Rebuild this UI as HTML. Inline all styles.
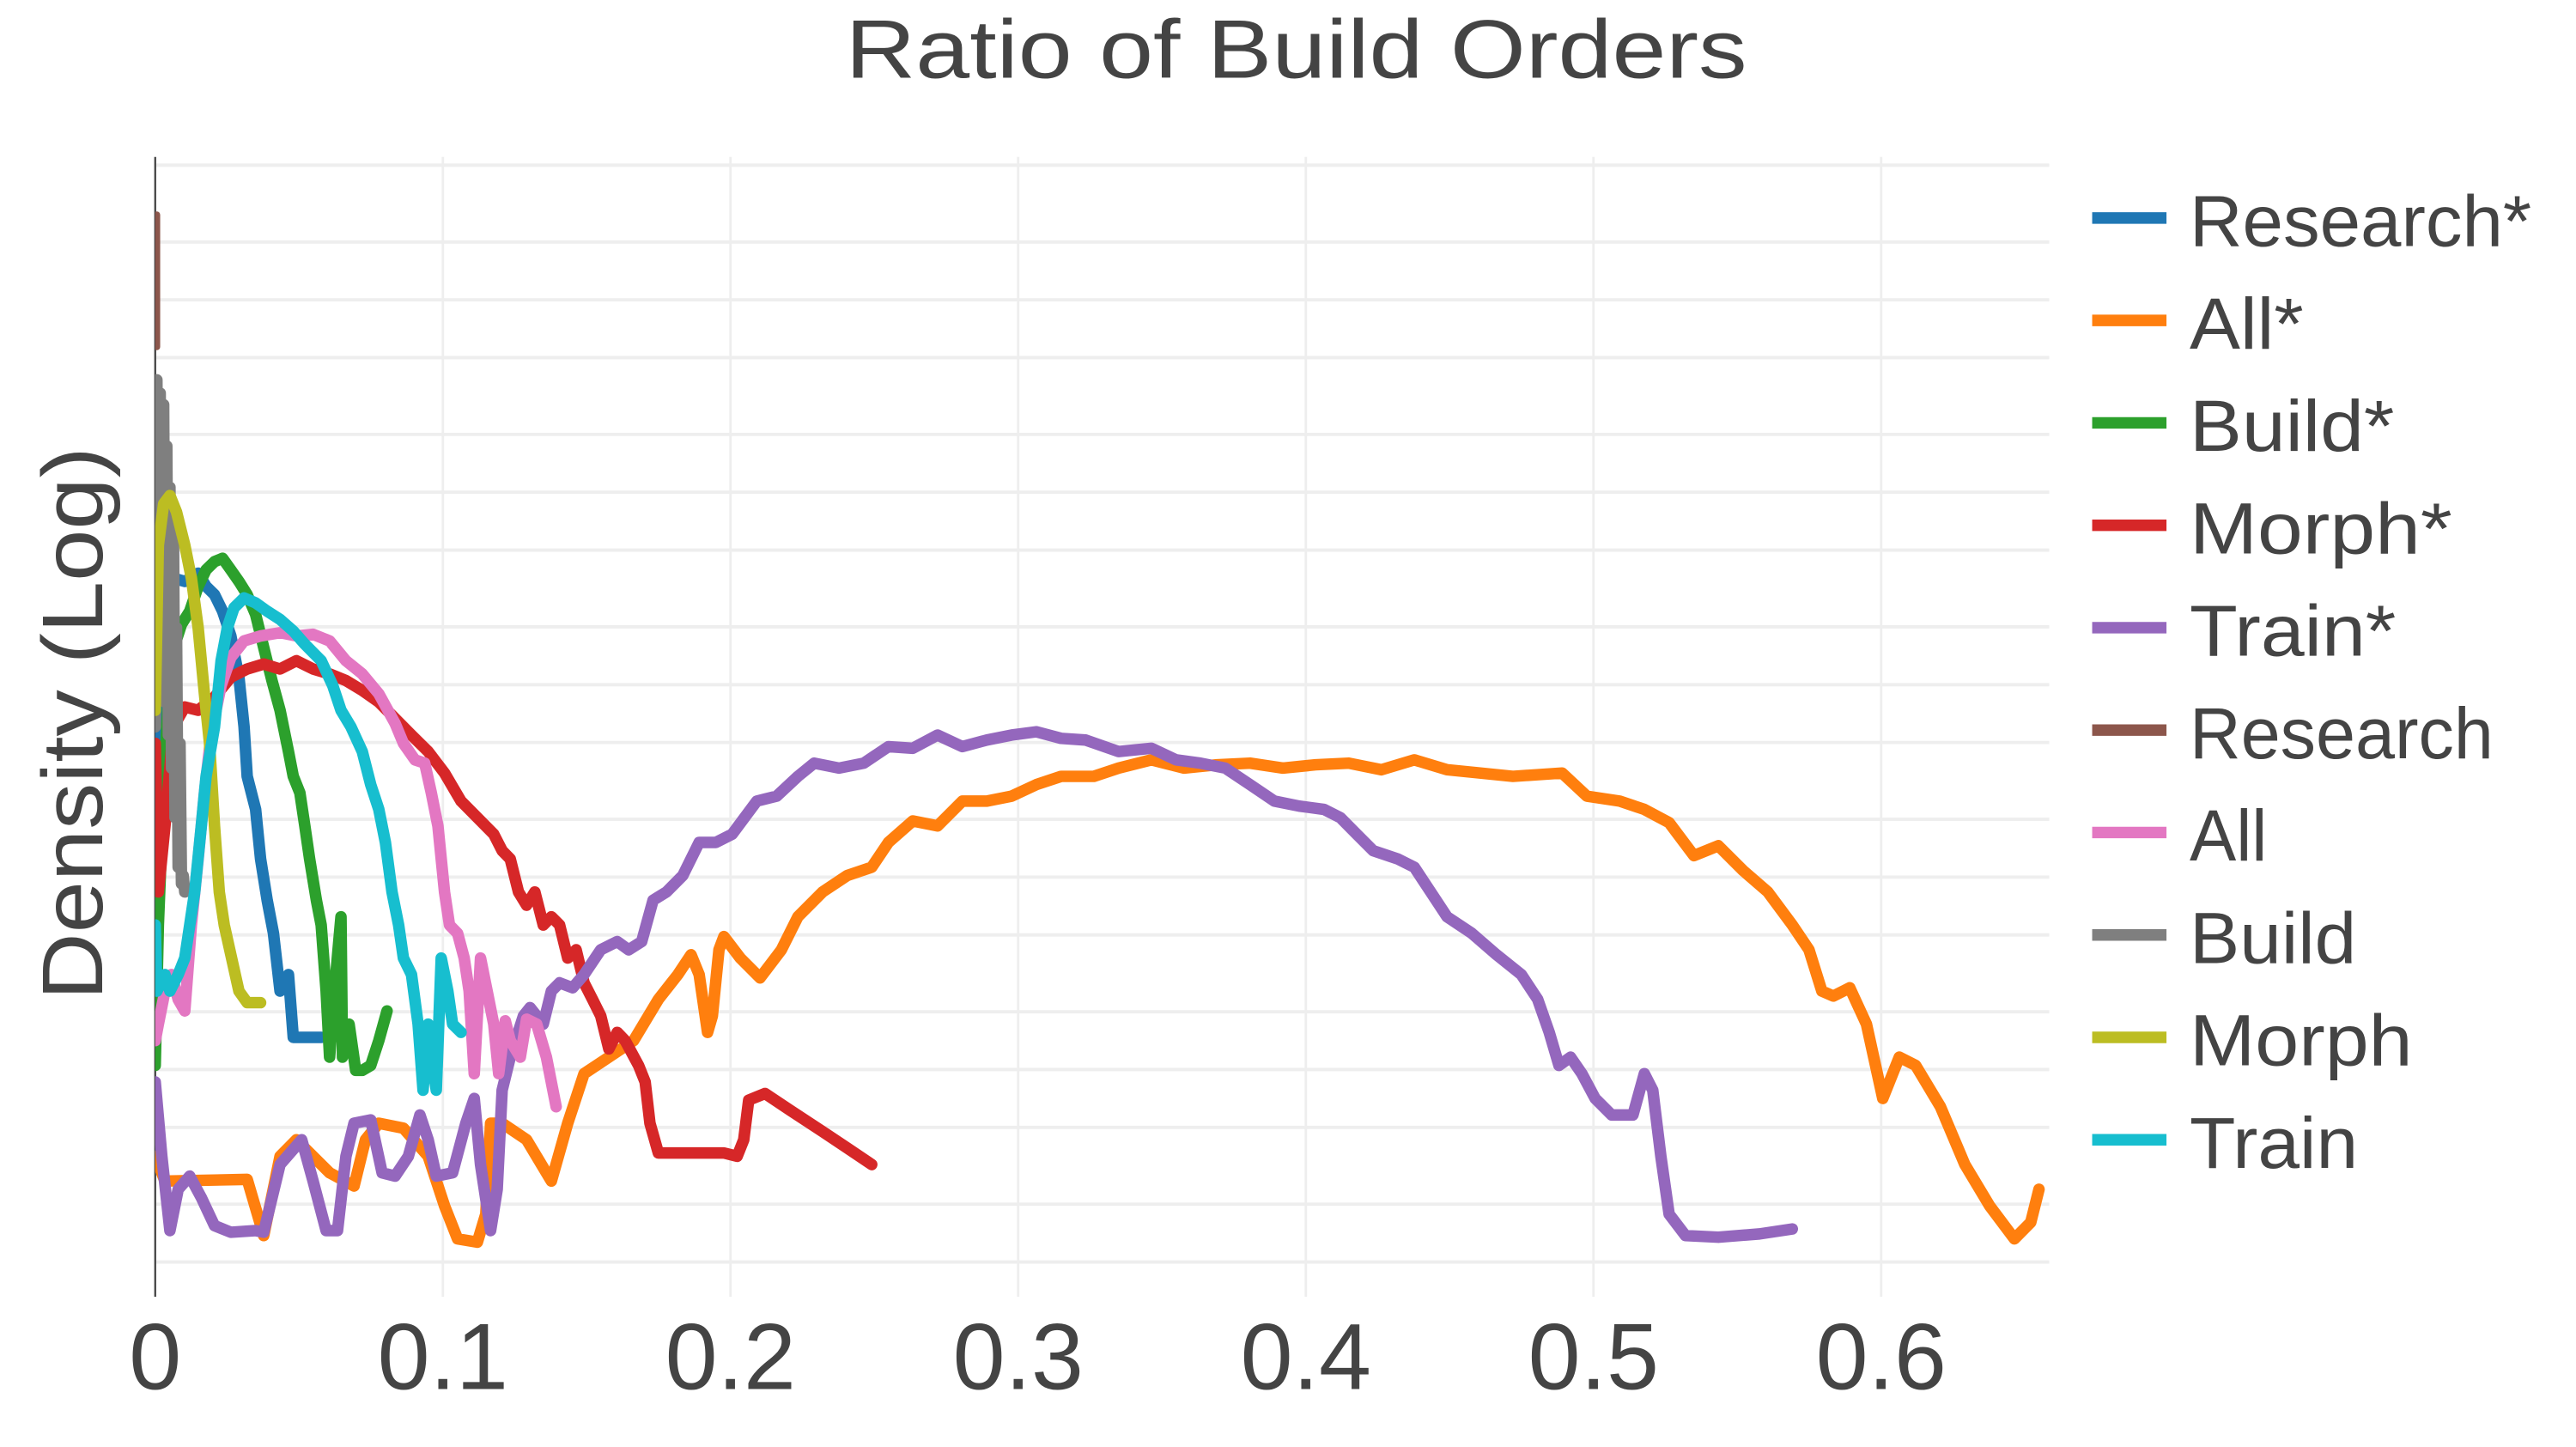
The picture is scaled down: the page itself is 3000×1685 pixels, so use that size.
<!DOCTYPE html>
<html><head><meta charset="utf-8"><title>Ratio of Build Orders</title>
<style>html,body{margin:0;padding:0;background:#fff;}svg{display:block;}
text{font-family:"Liberation Sans",sans-serif;fill:#444;}</style></head>
<body>
<svg id="chart" width="3000" height="1685" viewBox="0 0 1560 876" preserveAspectRatio="none" xmlns="http://www.w3.org/2000/svg">
<defs><clipPath id="plotclip"><rect x="94" y="95" width="1147" height="690"/></clipPath></defs>
<text x="785" y="47" text-anchor="middle" font-size="50" textLength="546" lengthAdjust="spacingAndGlyphs">Ratio of Build Orders</text>
<text transform="translate(62,438) rotate(-90)" text-anchor="middle" font-size="52" textLength="335" lengthAdjust="spacingAndGlyphs">Density (Log)</text>
<g id="grid"></g>
<g id="xticks"></g>
<line x1="94" y1="95" x2="94" y2="785" stroke="#444" stroke-width="1.2"/>
<g id="series" clip-path="url(#plotclip)"></g>
<g id="legend"></g>
</svg>
<script>
const xTicks = [0, 0.1, 0.2, 0.3, 0.4, 0.5, 0.6];
const xTickLabels = ["0", "0.1", "0.2", "0.3", "0.4", "0.5", "0.6"];
const yGridValues = [6.85,6.385,6.035,5.685,5.22,4.87,4.52,4.055,3.705,3.355,2.89,2.54,2.19,1.725,1.375,1.025,0.56,0.21];
const seriesNames = ["Research*","All*","Build*","Morph*","Train*","Research","All","Build","Morph","Train"];
const seriesColors = ["#1f77b4","#ff7f0e","#2ca02c","#d62728","#9467bd","#8c564b","#e377c2","#7f7f7f","#bcbd22","#17becf"];
const legendTextLengths = [207,69,124,159,125,184,47,101,135,102];

const researchStarX = [0,.0011,.0034,.0063,.0103,.0149,.0177,.0206,.0234,.0263,.0291,.0309,.032,.0349,.0366,.0389,.0411,.0434,.0463,.048,.052,.0577];
const researchStarY = [1.85,2.85,4.25,4.35,4.33,4.38,4.30,4.25,4.15,4.00,3.75,3.45,3.15,2.95,2.65,2.40,2.20,1.85,1.95,1.57,1.57,1.57];
const allStarX = [0,.0034,.032,.0377,.0434,.0491,.0606,.0691,.0731,.0777,.0863,.0949,.1006,.1051,.112,.1149,.1166,.1206,.1291,.1377,.1434,.1491,.1577,.1663,.1749,.1817,.1863,.1891,.192,.1937,.196,.1977,.2034,.2103,.2177,.2234,.232,.2406,.2491,.2549,.2634,.272,.2806,.2891,.2977,.3063,.3149,.3263,.3349,.3463,.3577,.3691,.3806,.392,.4034,.4149,.4263,.4377,.4491,.4606,.472,.4891,.4977,.5091,.5177,.5263,.5349,.5434,.552,.5606,.5691,.5749,.5794,.5834,.5891,.5949,.6006,.6063,.612,.6206,.6291,.6377,.6463,.652,.6549];
const allStarY = [0.85,0.70,0.71,0.37,0.85,0.95,0.75,0.67,0.95,1.05,1.02,0.85,0.55,0.35,0.33,0.50,1.05,1.05,0.95,0.70,1.05,1.35,1.45,1.55,1.80,1.95,2.07,1.95,1.60,1.70,2.10,2.18,2.05,1.93,2.10,2.30,2.45,2.55,2.60,2.75,2.88,2.85,3.00,3.00,3.03,3.10,3.15,3.15,3.20,3.25,3.20,3.22,3.23,3.20,3.22,3.23,3.19,3.25,3.19,3.17,3.15,3.17,3.03,3.00,2.95,2.87,2.67,2.73,2.58,2.45,2.25,2.10,1.85,1.82,1.87,1.65,1.20,1.45,1.40,1.15,0.80,0.55,0.35,0.45,0.65];
const buildStarX = [0,.0011,.0029,.0046,.0069,.0091,.012,.0149,.0177,.0206,.0234,.0263,.0291,.032,.0349,.0377,.0406,.0434,.0463,.048,.0503,.052,.0537,.056,.0577,.0594,.0606,.0623,.0646,.0651,.0674,.0697,.072,.0749,.0777,.0806];
const buildStarY = [1.40,2.25,3.05,3.65,3.95,4.07,4.15,4.30,4.40,4.45,4.47,4.40,4.33,4.25,4.13,3.93,3.73,3.55,3.30,3.15,3.05,2.85,2.65,2.40,2.25,1.85,1.45,1.85,2.30,1.45,1.65,1.37,1.37,1.40,1.55,1.73];
const morphStarX = [0,.0011,.0034,.0063,.0103,.0149,.0206,.0263,.032,.0377,.0434,.0491,.0549,.0606,.0663,.072,.0777,.0834,.0891,.0949,.1006,.1063,.112,.1177,.1206,.1234,.1263,.1291,.132,.1349,.1377,.1406,.1434,.1463,.1491,.152,.1549,.1577,.1606,.1634,.168,.1703,.172,.1749,.1863,.1977,.2023,.2046,.2063,.212,.2206,.232,.2406,.2491];
const morphStarY = [3.35,2.45,2.85,3.45,3.57,3.55,3.63,3.75,3.80,3.83,3.80,3.85,3.80,3.77,3.73,3.67,3.60,3.50,3.40,3.30,3.17,3.00,2.90,2.80,2.70,2.65,2.45,2.37,2.45,2.25,2.30,2.25,2.05,2.10,1.90,1.80,1.70,1.50,1.60,1.55,1.40,1.30,1.05,0.87,0.87,0.87,0.85,0.95,1.19,1.23,1.13,1.00,0.90,0.80];
const trainStarX = [0,.0023,.0051,.008,.012,.016,.0206,.0263,.0349,.0377,.0434,.0509,.0549,.0594,.0634,.0663,.0691,.0749,.0789,.0834,.088,.092,.0949,.0977,.1034,.108,.1109,.1131,.1166,.1189,.1206,.1234,.128,.1303,.1349,.1377,.1406,.1451,.1491,.1549,.1606,.1646,.1691,.1731,.1777,.1834,.1891,.1949,.2006,.2091,.216,.2234,.2291,.2377,.2463,.2549,.2634,.272,.2806,.2891,.2977,.3063,.3149,.3234,.3349,.3463,.3549,.3634,.372,.3806,.3891,.3977,.4063,.412,.4177,.4234,.432,.4377,.4434,.4491,.4577,.4663,.4749,.4806,.4846,.488,.492,.496,.5006,.5063,.5137,.5177,.5206,.5234,.5263,.532,.5434,.5577,.5691];
const trainStarY = [1.30,0.85,0.40,0.65,0.73,0.60,0.43,0.39,0.40,0.39,0.80,0.95,0.70,0.40,0.40,0.85,1.05,1.07,0.75,0.73,0.85,1.10,0.95,0.73,0.75,1.05,1.20,0.80,0.40,0.65,1.25,1.45,1.70,1.75,1.65,1.85,1.90,1.87,1.95,2.10,2.15,2.10,2.15,2.40,2.45,2.55,2.75,2.75,2.80,3.00,3.03,3.15,3.23,3.20,3.23,3.33,3.32,3.40,3.33,3.37,3.40,3.42,3.38,3.37,3.30,3.32,3.25,3.23,3.20,3.10,3.00,2.97,2.95,2.90,2.80,2.70,2.65,2.60,2.45,2.30,2.20,2.07,1.95,1.80,1.60,1.40,1.45,1.35,1.20,1.10,1.10,1.35,1.25,0.85,0.50,0.37,0.36,0.38,0.41];
const researchX = [0.0006,0.0006];
const researchY = [6.55,5.75];
const allX = [0,.0011,.0034,.0057,.008,.0103,.0126,.0149,.0171,.0194,.0229,.0263,.0309,.0366,.0434,.0491,.0549,.0606,.0663,.072,.0777,.0834,.0863,.0903,.0937,.096,.0983,.1006,.1023,.1051,.1074,.1091,.1109,.1131,.1154,.1177,.1194,.1217,.1234,.1269,.1291,.1326,.1360,.1394];
const allY = [1.55,1.65,1.85,1.95,1.80,1.73,2.25,2.65,3.05,3.40,3.70,3.87,3.97,4.00,4.02,4.00,4.01,3.97,3.85,3.77,3.65,3.47,3.35,3.25,3.23,3.05,2.85,2.45,2.25,2.20,2.05,1.85,1.35,2.05,1.85,1.65,1.35,1.67,1.55,1.45,1.68,1.65,1.45,1.15];
const buildX = [0,.0006,.0012,.0017,.0023,.0029,.0034,.004,.0046,.0051,.0057,.0063,.0069,.0074,.008,.0086,.0091,.0097,.0103];
const buildY = [3.45,5.55,3.80,5.47,4.00,5.40,3.60,5.15,3.40,4.90,3.20,4.75,2.90,4.05,2.60,3.35,2.50,2.55,2.45];
const morphX = [0,.0011,.0029,.0051,.0074,.0103,.0126,.0149,.0171,.0189,.0206,.0223,.0240,.0263,.0291,.032,.0366];
const morphY = [3.55,4.55,4.80,4.85,4.75,4.55,4.35,4.05,3.65,3.35,2.85,2.45,2.25,2.07,1.85,1.78,1.78];
const trainX = [0,.0006,.0034,.0051,.008,.0103,.0137,.016,.0177,.0206,.0229,.0251,.0274,.0309,.0349,.0389,.0434,.048,.052,.0577,.0617,.0646,.068,.072,.0749,.0777,.08,.0823,.0846,.0863,.0891,.0914,.0931,.0949,.096,.0977,.0994,.1017,.1034,.1063];
const trainY = [2.25,1.85,1.95,1.85,1.95,2.05,2.45,2.85,3.15,3.45,3.85,4.05,4.17,4.23,4.20,4.15,4.10,4.03,3.95,3.85,3.70,3.55,3.45,3.30,3.10,2.95,2.75,2.45,2.25,2.05,1.95,1.65,1.25,1.65,1.45,1.25,2.05,1.85,1.65,1.60];

const seriesXs = [researchStarX,allStarX,buildStarX,morphStarX,trainStarX,researchX,allX,buildX,morphX,trainX];
const seriesYs = [researchStarY,allStarY,buildStarY,morphStarY,trainStarY,researchY,allY,buildY,morphY,trainY];

const NS = "http://www.w3.org/2000/svg";
const X0 = 94, X_PER_UNIT = 1742, Y0 = 785, Y_PER_UNIT = 100;
function xScale(v){ return X0 + v * X_PER_UNIT; }
function yScale(v){ return Y0 - v * Y_PER_UNIT; }

const grid = document.getElementById('grid');
yGridValues.forEach(function(v){
  const l = document.createElementNS(NS,'line');
  
  
  l.setAttribute('x1', 94); l.setAttribute('x2', 1241);
  l.setAttribute('y1', yScale(v)); l.setAttribute('y2', yScale(v));
  l.setAttribute('stroke', '#eeeeee'); l.setAttribute('stroke-width', 2);
  grid.appendChild(l);
});
const xt = document.getElementById('xticks');
xTicks.forEach(function(v, i){
  if (v > 0) {
    const l = document.createElementNS(NS,'line');
    
    
    l.setAttribute('x1', xScale(v)); l.setAttribute('x2', xScale(v));
    l.setAttribute('y1', 95); l.setAttribute('y2', 785);
    l.setAttribute('stroke', '#eeeeee'); l.setAttribute('stroke-width', 1.5);
    grid.appendChild(l);
  }
  const t = document.createElementNS(NS,'text');
  
  
  t.setAttribute('x', xScale(v)); t.setAttribute('y', 841);
  t.setAttribute('text-anchor', 'middle'); t.setAttribute('font-size', 57);
  t.textContent = xTickLabels[i];
  xt.appendChild(t);
});
const sg = document.getElementById('series');
seriesXs.forEach(function(xs, s){
  const ys = seriesYs[s];
  let d = '';
  for (let i = 0; i < xs.length; i++) d += (i ? 'L' : 'M') + xScale(xs[i]).toFixed(1) + ',' + yScale(ys[i]).toFixed(1);
  const p = document.createElementNS(NS,'path');
  
  
  p.setAttribute('d', d);
  p.setAttribute('fill', 'none'); p.setAttribute('stroke', seriesColors[s]);
  p.setAttribute('stroke-width', s === 5 ? 4 : 7); p.setAttribute('stroke-linejoin', 'round'); p.setAttribute('stroke-linecap', 'round');
  sg.appendChild(p);
});
const lg = document.getElementById('legend');
seriesNames.forEach(function(n, i){
  const cy = 132 + i * 62;
  const g = document.createElementNS(NS,'g');
  
  
  const l = document.createElementNS(NS,'line');
  
  
  l.setAttribute('x1', 1267); l.setAttribute('x2', 1312); l.setAttribute('y1', cy); l.setAttribute('y2', cy);
  l.setAttribute('stroke', seriesColors[i]); l.setAttribute('stroke-width', 7);
  g.appendChild(l);
  const t = document.createElementNS(NS,'text');
  
  
  t.setAttribute('x', 1326); t.setAttribute('y', cy + 17);
  t.setAttribute('font-size', 44);
  t.setAttribute('textLength', legendTextLengths[i]); t.setAttribute('lengthAdjust', 'spacingAndGlyphs');
  t.textContent = n;
  g.appendChild(t);
  lg.appendChild(g);
});
</script>
</body></html>
